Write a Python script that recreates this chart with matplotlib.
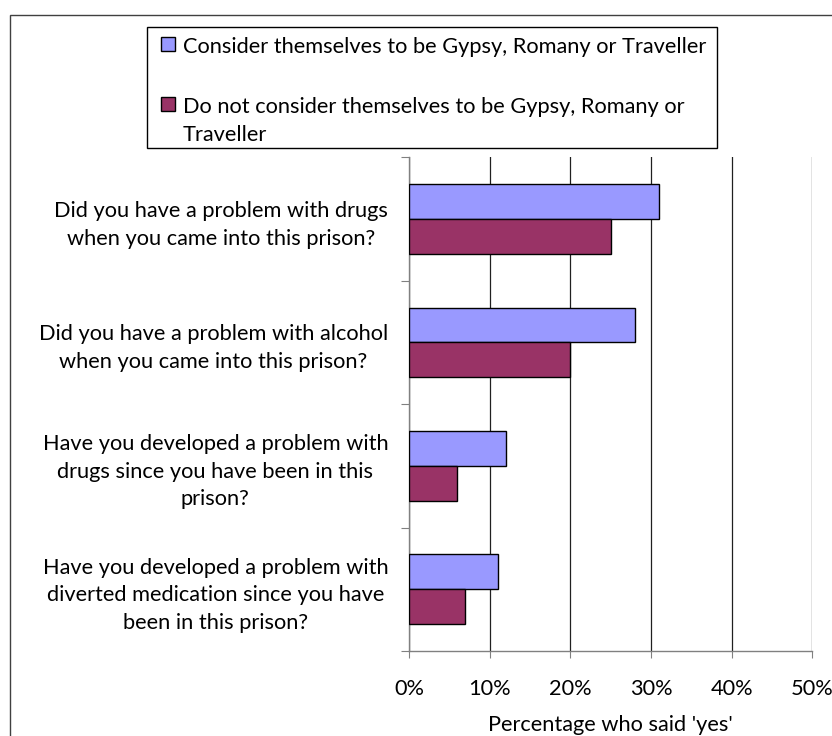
import matplotlib
matplotlib.use('Agg')
import matplotlib.pyplot as plt
from matplotlib.patches import Rectangle
import numpy as np

plt.rcParams['font.family'] = ['Lato', 'DejaVu Sans']

questions = [
    'Did you have a problem with drugs\nwhen you came into this prison?',
    'Did you have a problem with alcohol\nwhen you came into this prison?',
    'Have you developed a problem with\ndrugs since you have been in this\nprison?',
    'Have you developed a problem with\ndiverted medication since you have\nbeen in this prison?',
]
series_names = [
    'Consider themselves to be Gypsy, Romany or Traveller',
    'Do not consider themselves to be Gypsy, Romany or\nTraveller',
]
grt_yes = [31, 28, 12, 11]
non_grt_yes = [25, 20, 6, 7]
x_ticks = [0, 10, 20, 30, 40, 50]
x_title = "Percentage who said 'yes'"

colors = ['#9999FF', '#993366']
W, H = 832, 736
fs = 15.7
ls = 1.47

fig = plt.figure(figsize=(W / 100, H / 100), dpi=100)
ax = fig.add_axes([409 / W, 1 - 651 / H, (812.3 - 409) / W, (651 - 157.3) / H])

y = np.arange(len(questions))
bh = 0.283
ax.barh(y - bh / 2, grt_yes, height=bh, color=colors[0], edgecolor='black',
        linewidth=1.0, zorder=3)
ax.barh(y + bh / 2, non_grt_yes, height=bh, color=colors[1], edgecolor='black',
        linewidth=1.0, zorder=3)

ax.set_xlim(0, 50)
ax.set_ylim(len(questions) - 0.5, -0.5)

ax.set_xticks(x_ticks)
ax.set_xticklabels([f'{t}%' for t in x_ticks], fontsize=fs)
ax.tick_params(axis='x', direction='out', length=5, color='#808080', pad=15)
ax.xaxis.grid(True, color='#202020', linewidth=0.9, zorder=0)
ax.set_axisbelow(True)

ax.set_yticks(np.arange(-0.5, len(questions)))
ax.set_yticklabels([])
ax.set_yticks(y, minor=True)
ax.set_yticklabels(questions, minor=True, fontsize=fs, ha='right',
                   multialignment='center', linespacing=ls)
ax.tick_params(axis='y', which='major', direction='out', length=6, color='#808080')
ax.tick_params(axis='y', which='minor', length=0, pad=15)

for s in ['top', 'right']:
    ax.spines[s].set_visible(False)
for s in ['left', 'bottom']:
    ax.spines[s].set_color('#808080')
    ax.spines[s].set_linewidth(1.0)

ax.set_xlabel(x_title, fontsize=fs, labelpad=12)

# legend box
fig.add_artist(Rectangle((147 / W, 1 - 148 / H), (717 - 147) / W, (148 - 27) / H,
                         transform=fig.transFigure, facecolor='white',
                         edgecolor='black', linewidth=1.0))
for i, (name, c) in enumerate(zip(series_names, colors)):
    yc = [44, 104][i]
    fig.add_artist(Rectangle((160.5 / W, 1 - (yc + 7) / H), 14 / W, 14 / H,
                             transform=fig.transFigure, facecolor=c,
                             edgecolor='black', linewidth=1.0))
    fig.text(183 / W, 1 - (yc - 7) / H, name, fontsize=fs, va='top',
             ha='left', linespacing=ls)

# outer frame
fig.add_artist(Rectangle((10 / W, -0.05), 1.1, 1 - 15 / H + 0.05,
                         transform=fig.transFigure, facecolor='none',
                         edgecolor='#404040', linewidth=1.0))

fig.savefig('out.png', dpi=100)
